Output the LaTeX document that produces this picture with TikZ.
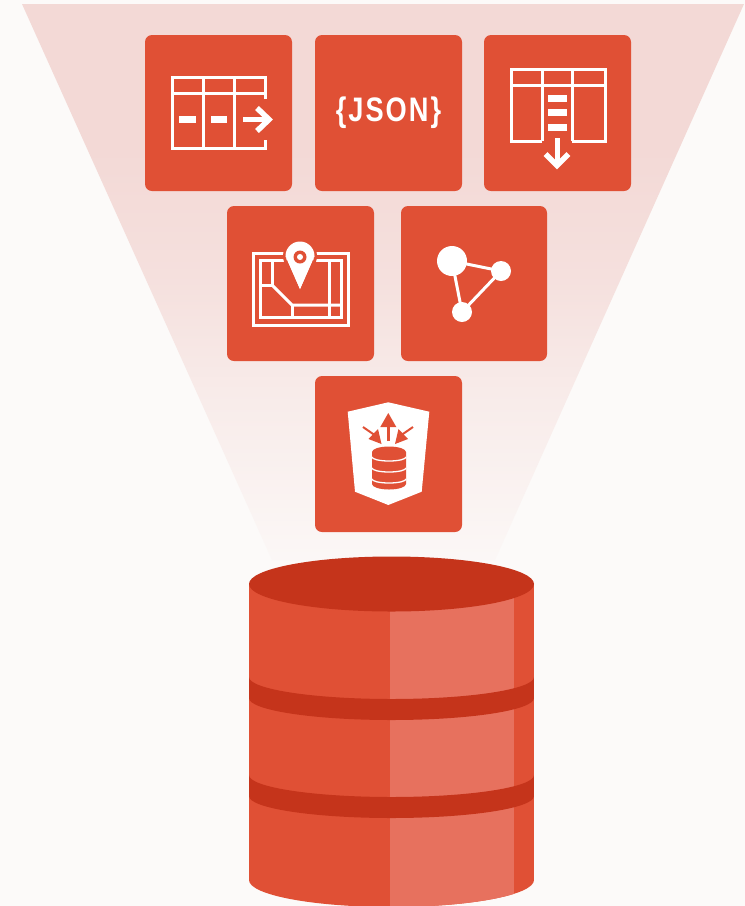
\documentclass[tikz,border=0pt]{standalone}
\usepackage{fontspec}
\newfontfamily\jsonfont[FakeStretch=0.8,LetterSpace=6]{Liberation Sans}
\definecolor{bgc}{HTML}{FCFAF9}
\definecolor{tile}{HTML}{E05035}
\definecolor{deep}{HTML}{C5341B}
\definecolor{pale}{HTML}{E7715E}
\definecolor{fpink}{HTML}{F3D9D6}
\colorlet{fA}{bgc!92!fpink}
\colorlet{fB}{bgc!55!fpink}
\colorlet{fC}{fpink!78!bgc}
\pgfdeclareverticalshading{funnelfade}{100bp}{
  color(0bp)=(bgc); color(25bp)=(fA); color(40bp)=(fB); color(50bp)=(fC);
  color(62bp)=(fpink); color(75bp)=(fpink); color(100bp)=(fpink)}
\tikzset{
  tilebox/.style={fill=tile,rounded corners=7pt},
  ln/.style={draw=white,line width=3pt,line cap=butt,line join=miter},
  fat/.style={draw=white,line width=7pt},
  wht/.style={fill=white},
  rd/.style={fill=tile},
}
\newcommand{\band}[1]{\fill[deep] (249,#1) arc[start angle=180,end angle=360,x radius=142.5,y radius=-22] -- (534,#1+21) arc[start angle=360,end angle=180,x radius=142.5,y radius=-22] -- cycle;}
\begin{document}
\begin{tikzpicture}[x=1pt,y=-1pt]
\useasboundingbox (0,0) rectangle (745,906);
\fill[bgc] (0,0) rectangle (745,906);
% funnel
\shade[shading=funnelfade] (22,4) -- (744,4) -- (495,560) -- (272,560) -- cycle;
% tiles
\fill[tilebox] (145,35) rectangle (292,191);
\fill[tilebox] (315,35) rectangle (462,191);
\fill[tilebox] (484,35) rectangle (631,191);
\fill[tilebox] (227,206) rectangle (374,361);
\fill[tilebox] (401,206) rectangle (547,361);
\fill[tilebox] (315,376) rectangle (462,532);
% icon 1
\draw[ln] (265,99) -- (265,77) -- (172,77) -- (172,148) -- (265,148) -- (265,140);
\draw[ln] (172,93) -- (265,93);
\draw[ln] (203,77) -- (203,148);
\draw[ln] (234,77) -- (234,148);
\draw[fat] (179,119.5) -- (196,119.5);
\draw[fat] (211,119.5) -- (227,119.5);
\draw[draw=white,line width=5pt] (243,119.5) -- (268,119.5);
\draw[draw=white,line width=5.5pt] (257,108) -- (269,119.5) -- (257,131);
% icon 2
\node[text=white,inner sep=0pt] (json) at (388.5,113) {\jsonfont\fontsize{34}{34}\selectfont\bfseries\{JSON\}};
% icon 3
\draw[ln] (542,141) -- (511,141) -- (511,69) -- (605,69) -- (605,141) -- (572,141);
\draw[ln] (511,85) -- (605,85);
\draw[ln] (542,69) -- (542,141);
\draw[ln] (572,69) -- (572,141);
\draw[fat] (548,98) -- (567,98);
\draw[fat] (548,112) -- (567,112);
\draw[fat] (548,127) -- (567,127);
\draw[draw=white,line width=5pt] (557,138) -- (557,165);
\draw[draw=white,line width=5.5pt] (545.5,154) -- (557,165.5) -- (568.5,154);
% icon 4
\draw[ln] (253,253) rectangle (348,325);
\draw[ln] (260,260) rectangle (341,317);
\draw[ln] (272,260) -- (272,285) -- (261,285);
\draw[ln] (272,285) -- (292,305) -- (341,305);
\draw[ln] (292,305) -- (292,317);
\draw[ln] (329,260) -- (329,317);
\fill[tile] (300,256) circle (17);
\fill[wht] (285.5,256) arc[start angle=180,end angle=360,x radius=14.5,y radius=14.5] -- (300,289) -- cycle;
\fill[wht] (285.5,256) arc[start angle=180,end angle=360,x radius=14.5,y radius=-10] -- (300,289) -- cycle;
\fill[rd] (300,257) circle (6.5);
\fill[wht] (300,257) circle (3);
% icon 5
\draw[draw=white,line width=3pt] (452,261) -- (501,271) -- (462,312) -- cycle;
\fill[wht] (452,261) circle (15);
\fill[wht] (501,271) circle (10);
\fill[wht] (462,312) circle (10);
% icon 6
\fill[wht] (347.7,411.7) -- (388.3,402.3) -- (429.3,411.7) -- (421.7,491.7) -- (388.3,505) -- (355,491.7) -- cycle;
\draw[tile,line width=3.5pt] (388.3,441) -- (388.3,425);
\fill[rd] (388.3,413) -- (396.3,427) -- (380.3,427) -- cycle;
\draw[tile,line width=2pt] (363,427) -- (376,436);
\fill[rd] (381.5,444) -- (368.5,439) -- (378,429) -- cycle;
\draw[tile,line width=2pt] (413,427) -- (400,436);
\fill[rd] (395,444) -- (408,439) -- (398.5,429) -- cycle;
\fill[rd] (372,452) arc[start angle=180,end angle=360,x radius=17,y radius=5.5] -- (406,484) arc[start angle=360,end angle=180,x radius=17,y radius=-5.5] -- cycle;
\draw[white,line width=1.3pt] (372,457) arc[start angle=180,end angle=360,x radius=17,y radius=-4];
\draw[white,line width=1.3pt] (372,468) arc[start angle=180,end angle=360,x radius=17,y radius=-4];
\draw[white,line width=1.3pt] (372,479) arc[start angle=180,end angle=360,x radius=17,y radius=-4];
% cylinder
\begin{scope}
\clip (249,584) -- (249,880) arc[start angle=180,end angle=360,x radius=142.5,y radius=-27] -- (534,584) -- cycle;
\fill[tile] (249,550) rectangle (534,906);
\fill[pale] (390,550) rectangle (514,906);
\band{677}
\band{775}
\end{scope}
\fill[deep] (391.5,584) ellipse [x radius=142.5,y radius=27.5];
\end{tikzpicture}
\end{document}
